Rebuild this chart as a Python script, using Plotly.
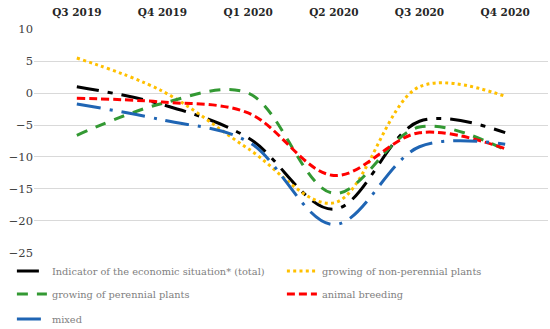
import plotly.graph_objects as go

quarters = ["Q3 2019", "Q4 2019", "Q1 2020", "Q2 2020", "Q3 2020", "Q4 2020"]
total = [1.0, -1.8, -7.0, -18.2, -4.4, -6.2]
non_perennial = [5.5, 0.3, -8.7, -17.2, 1.0, -0.5]
perennial = [-6.6, -1.6, 0.0, -15.7, -5.3, -8.9]
animal = [-0.8, -1.4, -3.1, -12.9, -6.2, -8.7]
mixed = [-1.7, -4.2, -7.6, -20.6, -8.4, -8.0]
y_ticks = [10, 5, 0, -5, -10, -15, -20, -25]

FONT = "DejaVu Serif"

series = [
    ("Indicator of the economic situation* (total)", total, "#000000", "22px,9px,5px,9px", 3, "legend"),
    ("growing of non-perennial plants", non_perennial, "#FFC000", "3px,3.3px", 3, "legend"),
    ("growing of perennial plants", perennial, "#339933", "11px,9px", 3, "legend2"),
    ("animal breeding", animal, "#FF0000", "8px,4px", 3, "legend2"),
    ("mixed", mixed, "#1F65B4", "24px,9px,3px,9px", 3, "legend3"),
]

fig = go.Figure()
for name, vals, color, dash, w, lg in series:
    fig.add_trace(go.Scatter(
        x=quarters, y=vals, name=name, mode="lines",
        line=dict(color=color, width=w, dash=dash, shape="spline", smoothing=1),
        legend=lg,
    ))

leg_common = dict(orientation="h", xanchor="left", yanchor="middle", x=-0.043,
                  entrywidth=225,
                  font=dict(family=FONT, size=9.8, color="#808080"),
                  bgcolor="rgba(0,0,0,0)", itemclick=False)

fig.update_layout(
    width=550, height=329,
    margin=dict(l=34, r=2, t=29, b=76, autoexpand=False),
    paper_bgcolor="white", plot_bgcolor="white",
    font=dict(family=FONT, size=11, color="#404040"),
    xaxis=dict(side="top", type="category", showgrid=False, showline=False, zeroline=False,
               ticks="", ticklabelstandoff=10,
               tickfont=dict(family=FONT, size=10.5, color="#262626", weight="bold"),
               range=[-0.5, 5.5]),
    yaxis=dict(range=[-25.05, 10.05], tickvals=y_ticks, showgrid=True, gridcolor="#D9D9D9",
               gridwidth=1, zeroline=False, showline=False, ticks="",
               tickfont=dict(family=FONT, size=11.5, color="#404040")),
    legend=dict(**leg_common, y=-0.080),
    legend2=dict(**leg_common, y=-0.183),
    legend3=dict(**leg_common, y=-0.295),
    showlegend=True,
)

fig.write_html("out.html", config={"displayModeBar": False},
               post_script="document.body.style.margin='0';")
